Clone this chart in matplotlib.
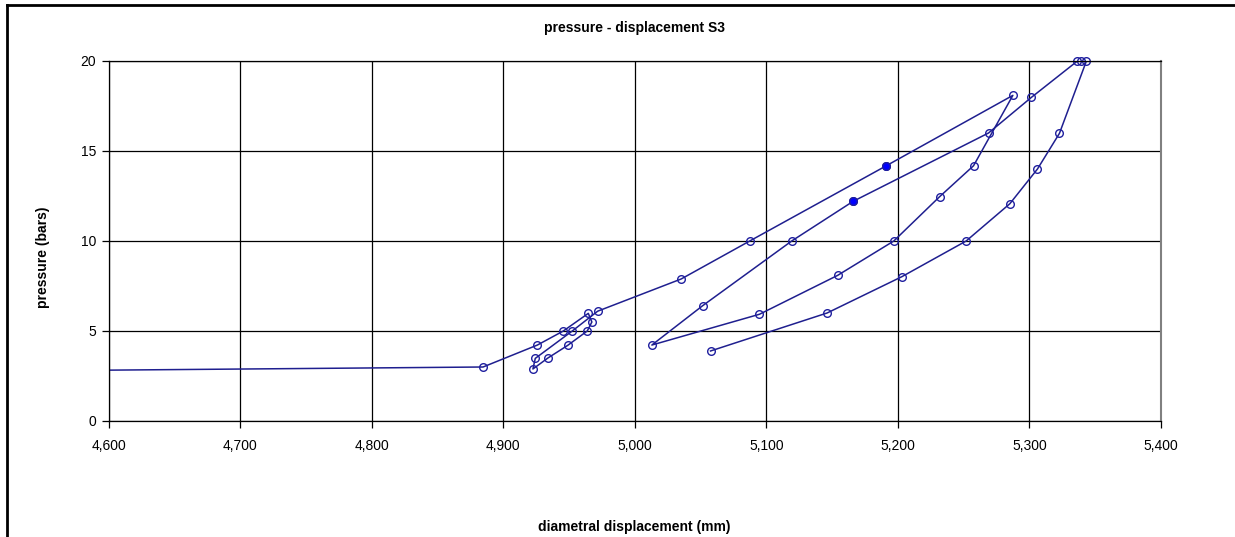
import matplotlib
matplotlib.use("Agg")
import matplotlib.pyplot as plt
from matplotlib.lines import Line2D
from matplotlib.ticker import FuncFormatter, MultipleLocator

plt.rcParams["font.family"] = ["Liberation Sans", "DejaVu Sans"]

# Diametral displacement (mm) and pressure (bars), in test order
displacement = [0.0, 4884.7, 4926.0, 4945.7, 4964.7, 4967.4, 4963.9, 4949.0,
                4934.0, 4922.6, 4924.4, 4952.5, 4971.8, 5035.3, 5087.4, 5191.2,
                5287.4, 5257.5, 5231.7, 5196.9, 5154.2, 5094.8, 5013.0, 5051.7,
                5119.3, 5165.9, 5268.9, 5301.5, 5336.5, 5339.5, 5343.3, 5322.8,
                5306.1, 5285.1, 5251.9, 5203.1, 5146.2, 5057.6]
pressure = [0.0, 3.0, 4.22, 5.0, 5.98, 5.5, 5.0, 4.2,
            3.5, 2.89, 3.48, 5.0, 6.1, 7.89, 10.0, 14.18,
            18.09, 14.18, 12.46, 10.0, 8.09, 5.93, 4.22, 6.41,
            10.0, 12.2, 16.0, 17.98, 20.0, 20.0, 20.0, 15.98,
            14.0, 12.07, 10.0, 8.02, 6.0, 3.89]

# Highlighted readings
hl_displacement = [5191.2, 5165.9]
hl_pressure = [14.18, 12.2]

x_min, x_max, x_step = 4600, 5400, 100
y_min, y_max, y_step = 0, 20, 5

line_color = "#1f1f8f"
edge_color = "#1f1f9f"

fig = plt.figure(figsize=(12.35, 5.37), dpi=100)
ax = fig.add_axes([108.5 / 1235, 1 - 421 / 537, (1161 - 108.5) / 1235, (421 - 61) / 537])

# Connecting line (clipped to the plot area)
ax.plot(displacement, pressure, color=line_color, linewidth=1.1, clip_on=True)

# Markers for the readings inside the axis range, drawn unclipped
vis = [(x, y) for x, y in zip(displacement, pressure) if x_min <= x <= x_max]
ax.plot([v[0] for v in vis], [v[1] for v in vis], linestyle="none",
        marker="o", markersize=5.5, markerfacecolor="none",
        markeredgecolor=edge_color, markeredgewidth=1.0, clip_on=False)
ax.plot(hl_displacement, hl_pressure, linestyle="none", marker="o",
        markersize=5.5, markerfacecolor="#0000ff", markeredgecolor=edge_color,
        markeredgewidth=1.0)

ax.set_xlim(x_min, x_max)
ax.set_ylim(y_min, y_max)
ax.xaxis.set_major_locator(MultipleLocator(x_step))
ax.yaxis.set_major_locator(MultipleLocator(y_step))
ax.xaxis.set_major_formatter(FuncFormatter(lambda v, p: f"{v:,.0f}"))
ax.grid(True, color="black", linewidth=0.9)
ax.set_axisbelow(True)

for side in ("left", "bottom", "top"):
    ax.spines[side].set_color("black")
    ax.spines[side].set_linewidth(0.9)
ax.spines["right"].set_color("#808080")
ax.spines["right"].set_linewidth(1.5)

ax.tick_params(axis="both", direction="out", length=5, width=0.9,
               labelsize=10, colors="black", pad=4)
ax.tick_params(axis="x", pad=8)

ax.set_title("pressure - displacement S3", fontsize=10, fontweight="bold", pad=21)
fig.text(43 / 1235, 1 - 257 / 537, "pressure (bars)", fontsize=10,
         fontweight="bold", rotation=90, ha="center", va="center")
fig.text(634 / 1235, 1 - 527 / 537, "diametral displacement (mm)", fontsize=10,
         fontweight="bold", ha="center", va="center")

# Chart-area frame along the top and left edges
fig.add_artist(Line2D([7 / 1235, 1], [1 - 5 / 537, 1 - 5 / 537],
                      transform=fig.transFigure, color="black", linewidth=2))
fig.add_artist(Line2D([7 / 1235, 7 / 1235], [0, 1 - 5 / 537],
                      transform=fig.transFigure, color="black", linewidth=2))

fig.savefig("out.png", dpi=100)
